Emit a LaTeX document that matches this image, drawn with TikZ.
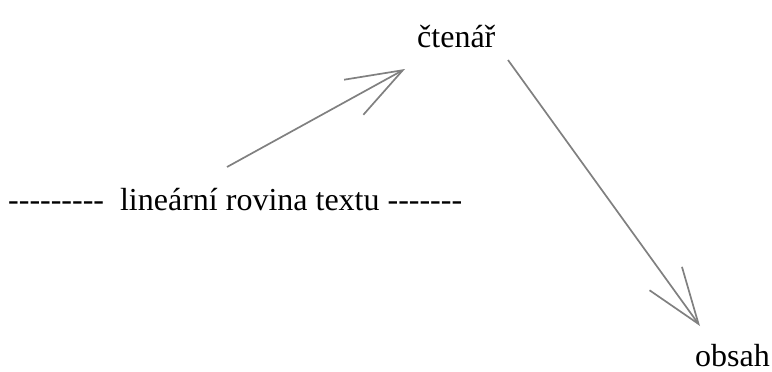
\documentclass[tikz,border=0pt]{standalone}
\usepackage{fontspec}
\setmainfont{Liberation Serif}[Ligatures=ResetAll]
\usetikzlibrary{arrows.meta}
\begin{document}
\begin{tikzpicture}[x=1pt,y=-1pt,
  lbl/.style={inner sep=0pt,anchor=base west,font=\fontsize{32}{38}\selectfont},
  conn/.style={draw={rgb,255:red,128;green,128;blue,128},line width=1.7pt,
    -{Straight Barb[length=56pt,width=40pt,line width=1.7pt]}}]
\useasboundingbox (0,0) rectangle (772,372);
\node[lbl] (reader) at (417,47) {čtenář};
\node[lbl] (plane) at (8,210) {-{}-{}-{}-{}-{}-{}-{}-{}-\ \ lineární rovina textu -{}-{}-{}-{}-{}-{}-};
\node[lbl] (content) at (695,366) {obsah};
\coordinate (s1) at (227,167);
\coordinate (e1) at (405,69);
\coordinate (s2) at (508,60);
\coordinate (e2) at (700,326);
\draw[conn] (s1) -- (e1);
\draw[conn] (s2) -- (e2);
\end{tikzpicture}
\end{document}
